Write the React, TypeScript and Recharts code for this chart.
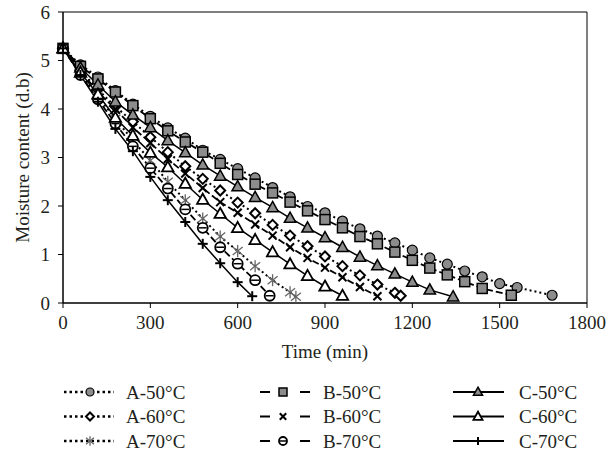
import { LineChart, Line, XAxis, YAxis, ReferenceArea } from "recharts";

const xTicks = [0, 300, 600, 900, 1200, 1500, 1800];
const yTicks = [0, 1, 2, 3, 4, 5, 6];

// A samples (dotted)
const a50Time = [0, 60, 120, 180, 240, 300, 360, 420, 480, 540, 600, 660, 720, 780, 840, 900, 960, 1020, 1080, 1140, 1200, 1260, 1320, 1380, 1440, 1500, 1560, 1680];
const a50 = [5.25, 4.91, 4.66, 4.38, 4.1, 3.85, 3.61, 3.4, 3.15, 2.96, 2.77, 2.58, 2.38, 2.19, 1.99, 1.86, 1.69, 1.53, 1.38, 1.24, 1.09, 0.93, 0.8, 0.66, 0.54, 0.4, 0.32, 0.16];
const a60Time = [0, 60, 120, 180, 240, 300, 360, 420, 480, 540, 600, 660, 720, 780, 840, 900, 960, 1020, 1080, 1140, 1160];
const a60 = [5.25, 4.8, 4.4, 4.05, 3.74, 3.42, 3.11, 2.82, 2.56, 2.32, 2.07, 1.85, 1.61, 1.39, 1.17, 0.96, 0.76, 0.57, 0.38, 0.21, 0.15];
const a70Time = [0, 60, 120, 180, 240, 300, 360, 420, 480, 540, 600, 660, 720, 780, 800];
const a70 = [5.25, 4.72, 4.25, 3.8, 3.35, 2.94, 2.5, 2.12, 1.74, 1.37, 1.07, 0.76, 0.47, 0.22, 0.13];

// B samples (dashed)
const b50Time = [0, 60, 120, 180, 240, 300, 360, 420, 480, 540, 600, 660, 720, 780, 840, 900, 960, 1020, 1080, 1140, 1200, 1260, 1320, 1380, 1440, 1540];
const b50 = [5.25, 4.88, 4.62, 4.35, 4.07, 3.8, 3.55, 3.32, 3.11, 2.88, 2.65, 2.45, 2.27, 2.08, 1.9, 1.72, 1.55, 1.37, 1.22, 1.05, 0.88, 0.72, 0.58, 0.44, 0.3, 0.16];
const b60Time = [0, 60, 120, 180, 240, 300, 360, 420, 480, 540, 600, 660, 720, 780, 840, 900, 960, 1020, 1080];
const b60 = [5.25, 4.78, 4.35, 4.0, 3.62, 3.3, 2.97, 2.67, 2.37, 2.08, 1.86, 1.62, 1.39, 1.15, 0.93, 0.73, 0.53, 0.33, 0.14];
const b70Time = [0, 60, 120, 180, 240, 300, 360, 420, 480, 540, 600, 660, 710];
const b70 = [5.25, 4.7, 4.2, 3.7, 3.23, 2.78, 2.36, 1.93, 1.55, 1.15, 0.81, 0.47, 0.15];

// C samples (solid)
const c50Time = [0, 60, 120, 180, 240, 300, 360, 420, 480, 540, 600, 660, 720, 780, 840, 900, 960, 1020, 1080, 1140, 1200, 1260, 1340];
const c50 = [5.25, 4.85, 4.5, 4.15, 3.88, 3.62, 3.35, 3.1, 2.85, 2.62, 2.4, 2.18, 1.97, 1.75, 1.55, 1.35, 1.15, 0.95, 0.77, 0.6, 0.43, 0.27, 0.13];
const c60Time = [0, 60, 120, 180, 240, 300, 360, 420, 480, 540, 600, 660, 720, 780, 840, 900, 960];
const c60 = [5.25, 4.75, 4.3, 3.82, 3.45, 3.1, 2.8, 2.46, 2.13, 1.84, 1.55, 1.3, 1.05, 0.8, 0.56, 0.34, 0.15];
const c70Time = [0, 60, 120, 180, 240, 300, 360, 420, 480, 540, 600, 650];
const c70 = [5.25, 4.7, 4.15, 3.59, 3.13, 2.6, 2.12, 1.67, 1.22, 0.82, 0.43, 0.14];

type Kind = "circleGray" | "diamond" | "star" | "square" | "cross" | "circleBar" | "triGray" | "triWhite" | "plus";
type Style = "dot" | "dash" | "solid";

const series: { name: string; time: number[]; values: number[]; style: Style; kind: Kind }[] = [
  { name: "A-50°C", time: a50Time, values: a50, style: "dot", kind: "circleGray" },
  { name: "A-60°C", time: a60Time, values: a60, style: "dot", kind: "diamond" },
  { name: "A-70°C", time: a70Time, values: a70, style: "dot", kind: "star" },
  { name: "B-50°C", time: b50Time, values: b50, style: "dash", kind: "square" },
  { name: "B-60°C", time: b60Time, values: b60, style: "dash", kind: "cross" },
  { name: "B-70°C", time: b70Time, values: b70, style: "dash", kind: "circleBar" },
  { name: "C-50°C", time: c50Time, values: c50, style: "solid", kind: "triGray" },
  { name: "C-60°C", time: c60Time, values: c60, style: "solid", kind: "triWhite" },
  { name: "C-70°C", time: c70Time, values: c70, style: "solid", kind: "plus" },
];

const GRAY = "#8c8c8c";
const INK = "#231f20";
const FONT = "'Liberation Serif', 'Times New Roman', serif";

const lineStyle = {
  dot: { strokeDasharray: "2 3", strokeWidth: 2 },
  dash: { strokeDasharray: "7 3", strokeWidth: 1.8 },
  solid: { strokeDasharray: undefined, strokeWidth: 1.5 },
};

const Marker = ({ kind, cx, cy, k = 1 }: { kind: Kind; cx: number; cy: number; k?: number }) => {
  const tri = (r: number) =>
    `${cx},${cy - r} ${cx + r * 0.95},${cy + r * 0.7} ${cx - r * 0.95},${cy + r * 0.7}`;
  switch (kind) {
    case "circleGray":
      return <circle cx={cx} cy={cy} r={5 * k} fill={GRAY} stroke="#000" strokeWidth={1.2} />;
    case "square":
      return <rect x={cx - 5 * k} y={cy - 5 * k} width={10 * k} height={10 * k} fill={GRAY} stroke="#000" strokeWidth={1.5} />;
    case "triGray":
      return <polygon points={tri(6 * k)} fill={GRAY} stroke="#000" strokeWidth={1.5} />;
    case "triWhite":
      return <polygon points={tri(6 * k)} fill="#fff" stroke="#000" strokeWidth={1.8} />;
    case "diamond":
      return (
        <polygon
          points={`${cx},${cy - 5 * k} ${cx + 5 * k},${cy} ${cx},${cy + 5 * k} ${cx - 5 * k},${cy}`}
          fill="#fff"
          stroke="#000"
          strokeWidth={2}
        />
      );
    case "cross":
      return (
        <g stroke="#000" strokeWidth={2}>
          <line x1={cx - 4 * k} y1={cy - 4 * k} x2={cx + 4 * k} y2={cy + 4 * k} />
          <line x1={cx - 4 * k} y1={cy + 4 * k} x2={cx + 4 * k} y2={cy - 4 * k} />
        </g>
      );
    case "plus":
      return (
        <g stroke="#000" strokeWidth={2}>
          <line x1={cx - 5 * k} y1={cy} x2={cx + 5 * k} y2={cy} />
          <line x1={cx} y1={cy - 5 * k} x2={cx} y2={cy + 5 * k} />
        </g>
      );
    case "star":
      return (
        <g stroke="#666" strokeWidth={1.3}>
          <line x1={cx} y1={cy - 6 * k} x2={cx} y2={cy + 6 * k} />
          <line x1={cx - 5 * k} y1={cy - 4 * k} x2={cx + 5 * k} y2={cy + 4 * k} />
          <line x1={cx - 5 * k} y1={cy + 4 * k} x2={cx + 5 * k} y2={cy - 4 * k} />
        </g>
      );
    case "circleBar":
      return (
        <g>
          <circle cx={cx} cy={cy} r={5 * k} fill="#fff" stroke="#000" strokeWidth={1.8} />
          <line x1={cx - 4 * k} y1={cy} x2={cx + 4 * k} y2={cy} stroke="#000" strokeWidth={1.5} />
        </g>
      );
  }
  return null;
};

const legendCols = [
  { iconX1: 64, iconX2: 114, markX: 90, textX: 126 },
  { iconX1: 260, iconX2: 310, markX: 283, textX: 323 },
  { iconX1: 453, iconX2: 504, markX: 478, textX: 519 },
];
const legendRows = [392, 416.5, 441];

const LegendOverlay = () => (
  <svg width={608} height={454} style={{ position: "absolute", left: 0, top: 0, pointerEvents: "none" }}>
    {series.map((s, i) => {
      const col = legendCols[Math.floor(i / 3)];
      const y = legendRows[i % 3];
      const dash =
        s.style === "dot" ? "2.5 3" : s.style === "dash" ? "10 30 10" : undefined;
      return (
        <g key={s.name}>
          <line
            x1={col.iconX1}
            x2={col.iconX2}
            y1={y}
            y2={y}
            stroke="#000"
            strokeWidth={s.style === "dot" ? 2.5 : 2.2}
            strokeDasharray={dash}
          />
          <Marker kind={s.kind} cx={col.markX} cy={y} k={0.8} />
          <text x={col.textX} y={y} dy="0.35em" fontSize={19} fill={INK} fontFamily={FONT}>
            {s.name}
          </text>
        </g>
      );
    })}
  </svg>
);

export default function App() {
  return (
    <div style={{ position: "absolute", left: 0, top: 0, width: 608, height: 454, background: "#fff", fontFamily: FONT }}>
      <LineChart width={608} height={454} margin={{ top: 12, right: 21, left: 0, bottom: 96 }}>
        <XAxis
          dataKey="t"
          type="number"
          domain={[0, 1800]}
          ticks={xTicks}
          allowDuplicatedCategory={false}
          height={55}
          stroke="#000"
          tickSize={5}
          tickMargin={8}
          tick={{ fontSize: 19, fill: INK }}
          label={{ value: "Time (min)", position: "insideBottom", offset: 0, fontSize: 19, fill: INK }}
        />
        <YAxis
          type="number"
          domain={[0, 6]}
          ticks={yTicks}
          width={63}
          stroke="#000"
          tickSize={5}
          tickMargin={8}
          tick={{ fontSize: 19, fill: INK }}
          label={{
            value: "Moisture content (d.b)",
            angle: -90,
            position: "insideLeft",
            offset: 22,
            fontSize: 19,
            fill: INK,
            style: { textAnchor: "middle" },
          }}
        />
        <ReferenceArea x1={0} x2={1800} y1={0} y2={6} fill="none" stroke="#000" strokeWidth={1} />
        {series.map((s) => (
          <Line
            key={s.name}
            name={s.name}
            data={s.time.map((t, i) => ({ t, v: s.values[i] }))}
            dataKey="v"
            type="linear"
            stroke="#000"
            strokeWidth={lineStyle[s.style].strokeWidth}
            strokeDasharray={lineStyle[s.style].strokeDasharray}
            isAnimationActive={false}
            dot={(p: any) => <Marker key={`${s.name}-${p.index}`} kind={s.kind} cx={p.cx} cy={p.cy} />}
            activeDot={false}
          />
        ))}
      </LineChart>
      <LegendOverlay />
    </div>
  );
}
